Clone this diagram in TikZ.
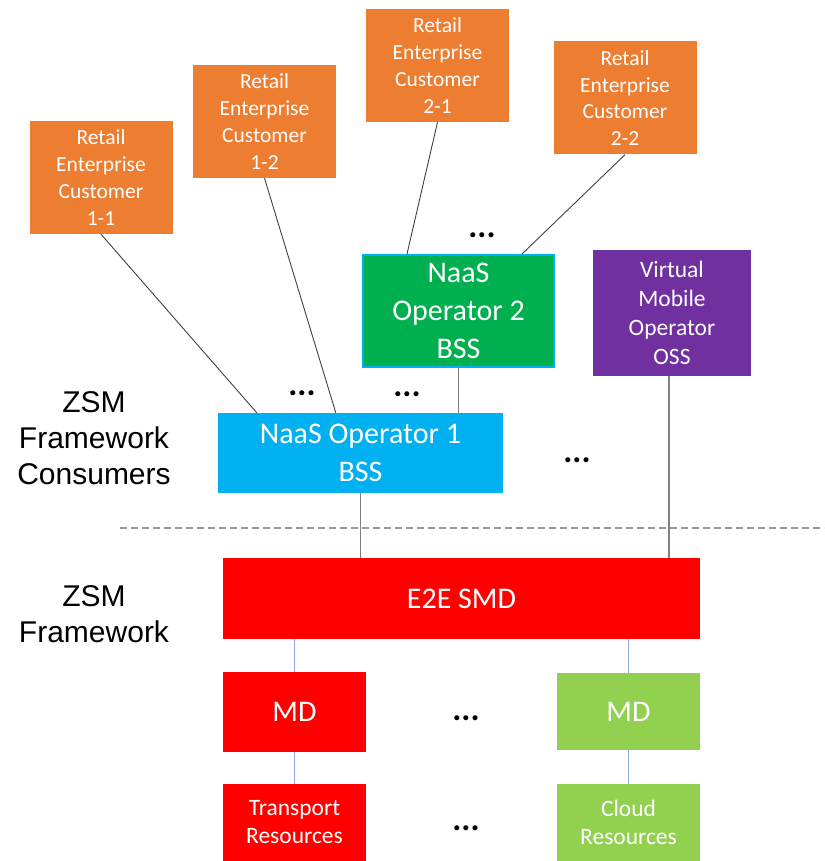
\documentclass[tikz,border=0pt]{standalone}
\usepackage{fontspec}
\setmainfont{Carlito}
\newfontfamily\arialf{Liberation Sans}
\usetikzlibrary{calc}
\definecolor{orangeC}{HTML}{ED7D31}
\definecolor{greenC}{HTML}{00B050}
\definecolor{purpleC}{HTML}{7030A0}
\definecolor{blueC}{HTML}{00B0F0}
\definecolor{redC}{HTML}{FF0000}
\definecolor{lgreenC}{HTML}{92D050}
\definecolor{mdlineC}{HTML}{8FAADC}
\begin{document}
\begin{tikzpicture}[x=1pt,y=-1pt,
  box/.style={inner sep=0pt, align=center, text=white},
  cust/.style={box, fill=orangeC, minimum width=143pt, minimum height=113pt, font=\fontsize{21.5}{26.7}\selectfont},
  bigtext/.style={font=\fontsize{30}{38}\selectfont},
  dotsnode/.style={anchor=base, inner sep=0pt, font=\fontsize{34}{36}\selectfont\bfseries},
  sidelabel/.style={inner sep=0pt, align=center, font=\arialf\fontsize{30}{36}\selectfont},
  custline/.style={draw=black!75, line width=0.9pt},
  vline/.style={draw=black!50, line width=1.5pt},
  mdline/.style={draw=mdlineC, line width=1pt},
  dashline/.style={draw=black!40, line width=1.3pt, dash pattern=on 7pt off 4pt}]
\useasboundingbox (0,0) rectangle (824,861);

% dashed separator
\coordinate (dl) at (120,528);
\coordinate (dr) at (824,528);
\draw[dashline] (dl) -- (dr);

% customers
\node[cust] (re11) at (101,177.5) {Retail\\Enterprise\\Customer\\1-1};
\node[cust] (re12) at (264.5,121.5) {Retail\\Enterprise\\Customer\\1-2};
\node[cust] (re21) at (437.5,65.5) {Retail\\Enterprise\\Customer\\2-1};
\node[cust] (re22) at (625,98) {Retail\\Enterprise\\Customer\\2-2};

% operators
\node[box, bigtext, fill=greenC, draw=blueC, line width=2pt, minimum width=191pt, minimum height=112pt] (nop2) at (458.5,311) {NaaS\\Operator 2\\BSS};
\node[box, fill=purpleC, minimum width=158pt, minimum height=126pt, font=\fontsize{23.5}{29}\selectfont] (vmo) at (672,313) {Virtual\\Mobile\\Operator\\OSS};
\node[box, bigtext, fill=blueC, minimum width=285pt, minimum height=80pt] (nop1) at (360.5,453) {NaaS Operator 1\\BSS};

% framework
\node[box, bigtext, fill=redC, minimum width=477pt, minimum height=81pt] (e2e) at (461.5,598.5) {E2E SMD};
\node[box, bigtext, fill=redC, minimum width=143pt, minimum height=80pt] (md1) at (294.5,712) {MD};
\node[box, bigtext, fill=lgreenC, minimum width=143pt, minimum height=77pt] (md2) at (628.5,711.5) {MD};
\node[box, fill=redC, minimum width=143pt, minimum height=77pt, font=\fontsize{23.5}{28}\selectfont] (tr) at (294.5,822.5) {Transport\\Resources};
\node[box, fill=lgreenC, minimum width=143pt, minimum height=77pt, font=\fontsize{23.5}{28}\selectfont] (cr) at (628.5,822.5) {Cloud\\Resources};

% side labels
\node[sidelabel] (lab1) at (94,438.5) {ZSM\\Framework\\Consumers};
\node[sidelabel] (lab2) at (94,614.5) {ZSM\\Framework};

% ellipses
\node[dotsnode] (d1) at (482,237) {...};
\node[dotsnode] (d2) at (302,395) {...};
\node[dotsnode] (d3) at (407,396) {...};
\node[dotsnode] (d4) at (577,462) {...};
\node[dotsnode] (d5) at (466,720) {...};
\node[dotsnode] (d6) at (466,830) {...};

% connectors
\draw[custline] (re11.south) -- ([xshift=39pt]nop1.north west);
\draw[custline] (re12.south) -- ([xshift=118pt]nop1.north west);
\draw[custline] (re21.south) -- ([xshift=45pt]nop2.north west);
\draw[custline] (re22.south) -- ([xshift=160pt]nop2.north west);
\draw[vline] (nop2.south) -- (nop2.south |- nop1.north);
\draw[vline] (nop1.south) -- (nop1.south |- e2e.north);
\draw[vline] ([xshift=-3pt]vmo.south) -- ([xshift=-3pt]vmo.south |- e2e.north);
\draw[mdline] (md1.north) -- (md1.north |- e2e.south);
\draw[mdline] (md2.north) -- (md2.north |- e2e.south);
\draw[mdline] (md1.south) -- (tr.north);
\draw[mdline] (md2.south) -- (cr.north);
\end{tikzpicture}
\end{document}
